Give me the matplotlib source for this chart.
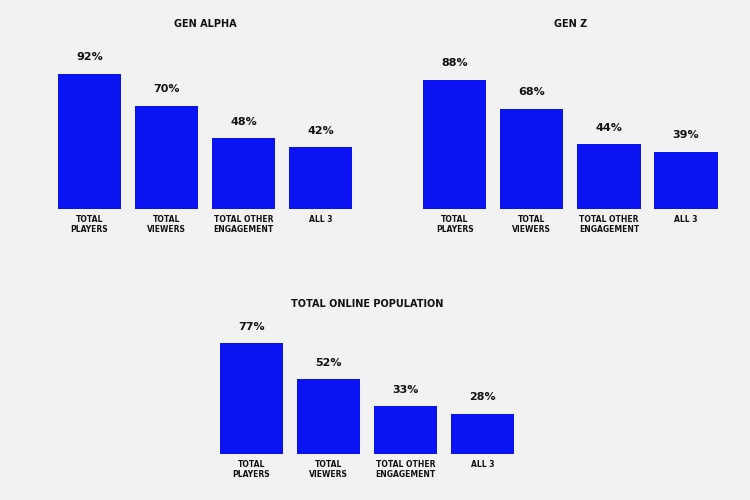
import matplotlib.pyplot as plt
import numpy as np

categories = ['TOTAL\nPLAYERS', 'TOTAL\nVIEWERS', 'TOTAL OTHER\nENGAGEMENT', 'ALL 3']
gen_alpha = [92, 70, 48, 42]
gen_z = [88, 68, 44, 39]
total_online = [77, 52, 33, 28]

bg = '#f2f2f2'
blue = '#0a14f2'

fig = plt.figure(figsize=(7.5, 5), dpi=100, facecolor=bg)

def panel(rect, values, title, title_y):
    ax = fig.add_axes(rect)
    ax.set_facecolor(bg)
    x = np.arange(len(values))
    ax.bar(x, values, width=0.82, color=blue)
    for xi, v in zip(x, values):
        ax.text(xi, v + 8, f'{v}%', ha='center', va='bottom',
                fontsize=8, fontweight='bold', color='#111111')
    ax.set_xlim(-0.5, len(values) - 0.5)
    ax.set_ylim(0, 100)
    ax.set_xticks(x)
    ax.set_xticklabels(categories, fontsize=5.5, fontweight='bold',
                       color='#111111', linespacing=1.15)
    ax.tick_params(axis='x', length=0, pad=4)
    ax.set_yticks([])
    for s in ax.spines.values():
        s.set_visible(False)
    # title in figure coords
    fig.text(rect[0] + rect[2] / 2, title_y, title, ha='center', va='center',
             fontsize=7, fontweight='bold', color='#111111')
    return ax

panel([0.068, 0.582, 0.411, 0.294], gen_alpha, 'GEN ALPHA', 1 - 24 / 500)
panel([0.555, 0.582, 0.411, 0.294], gen_z, 'GEN Z', 1 - 24 / 500)
panel([0.284, 0.092, 0.411, 0.288], total_online, 'TOTAL ONLINE POPULATION', 1 - 304 / 500)

fig.savefig('out.png', dpi=100, facecolor=bg)
